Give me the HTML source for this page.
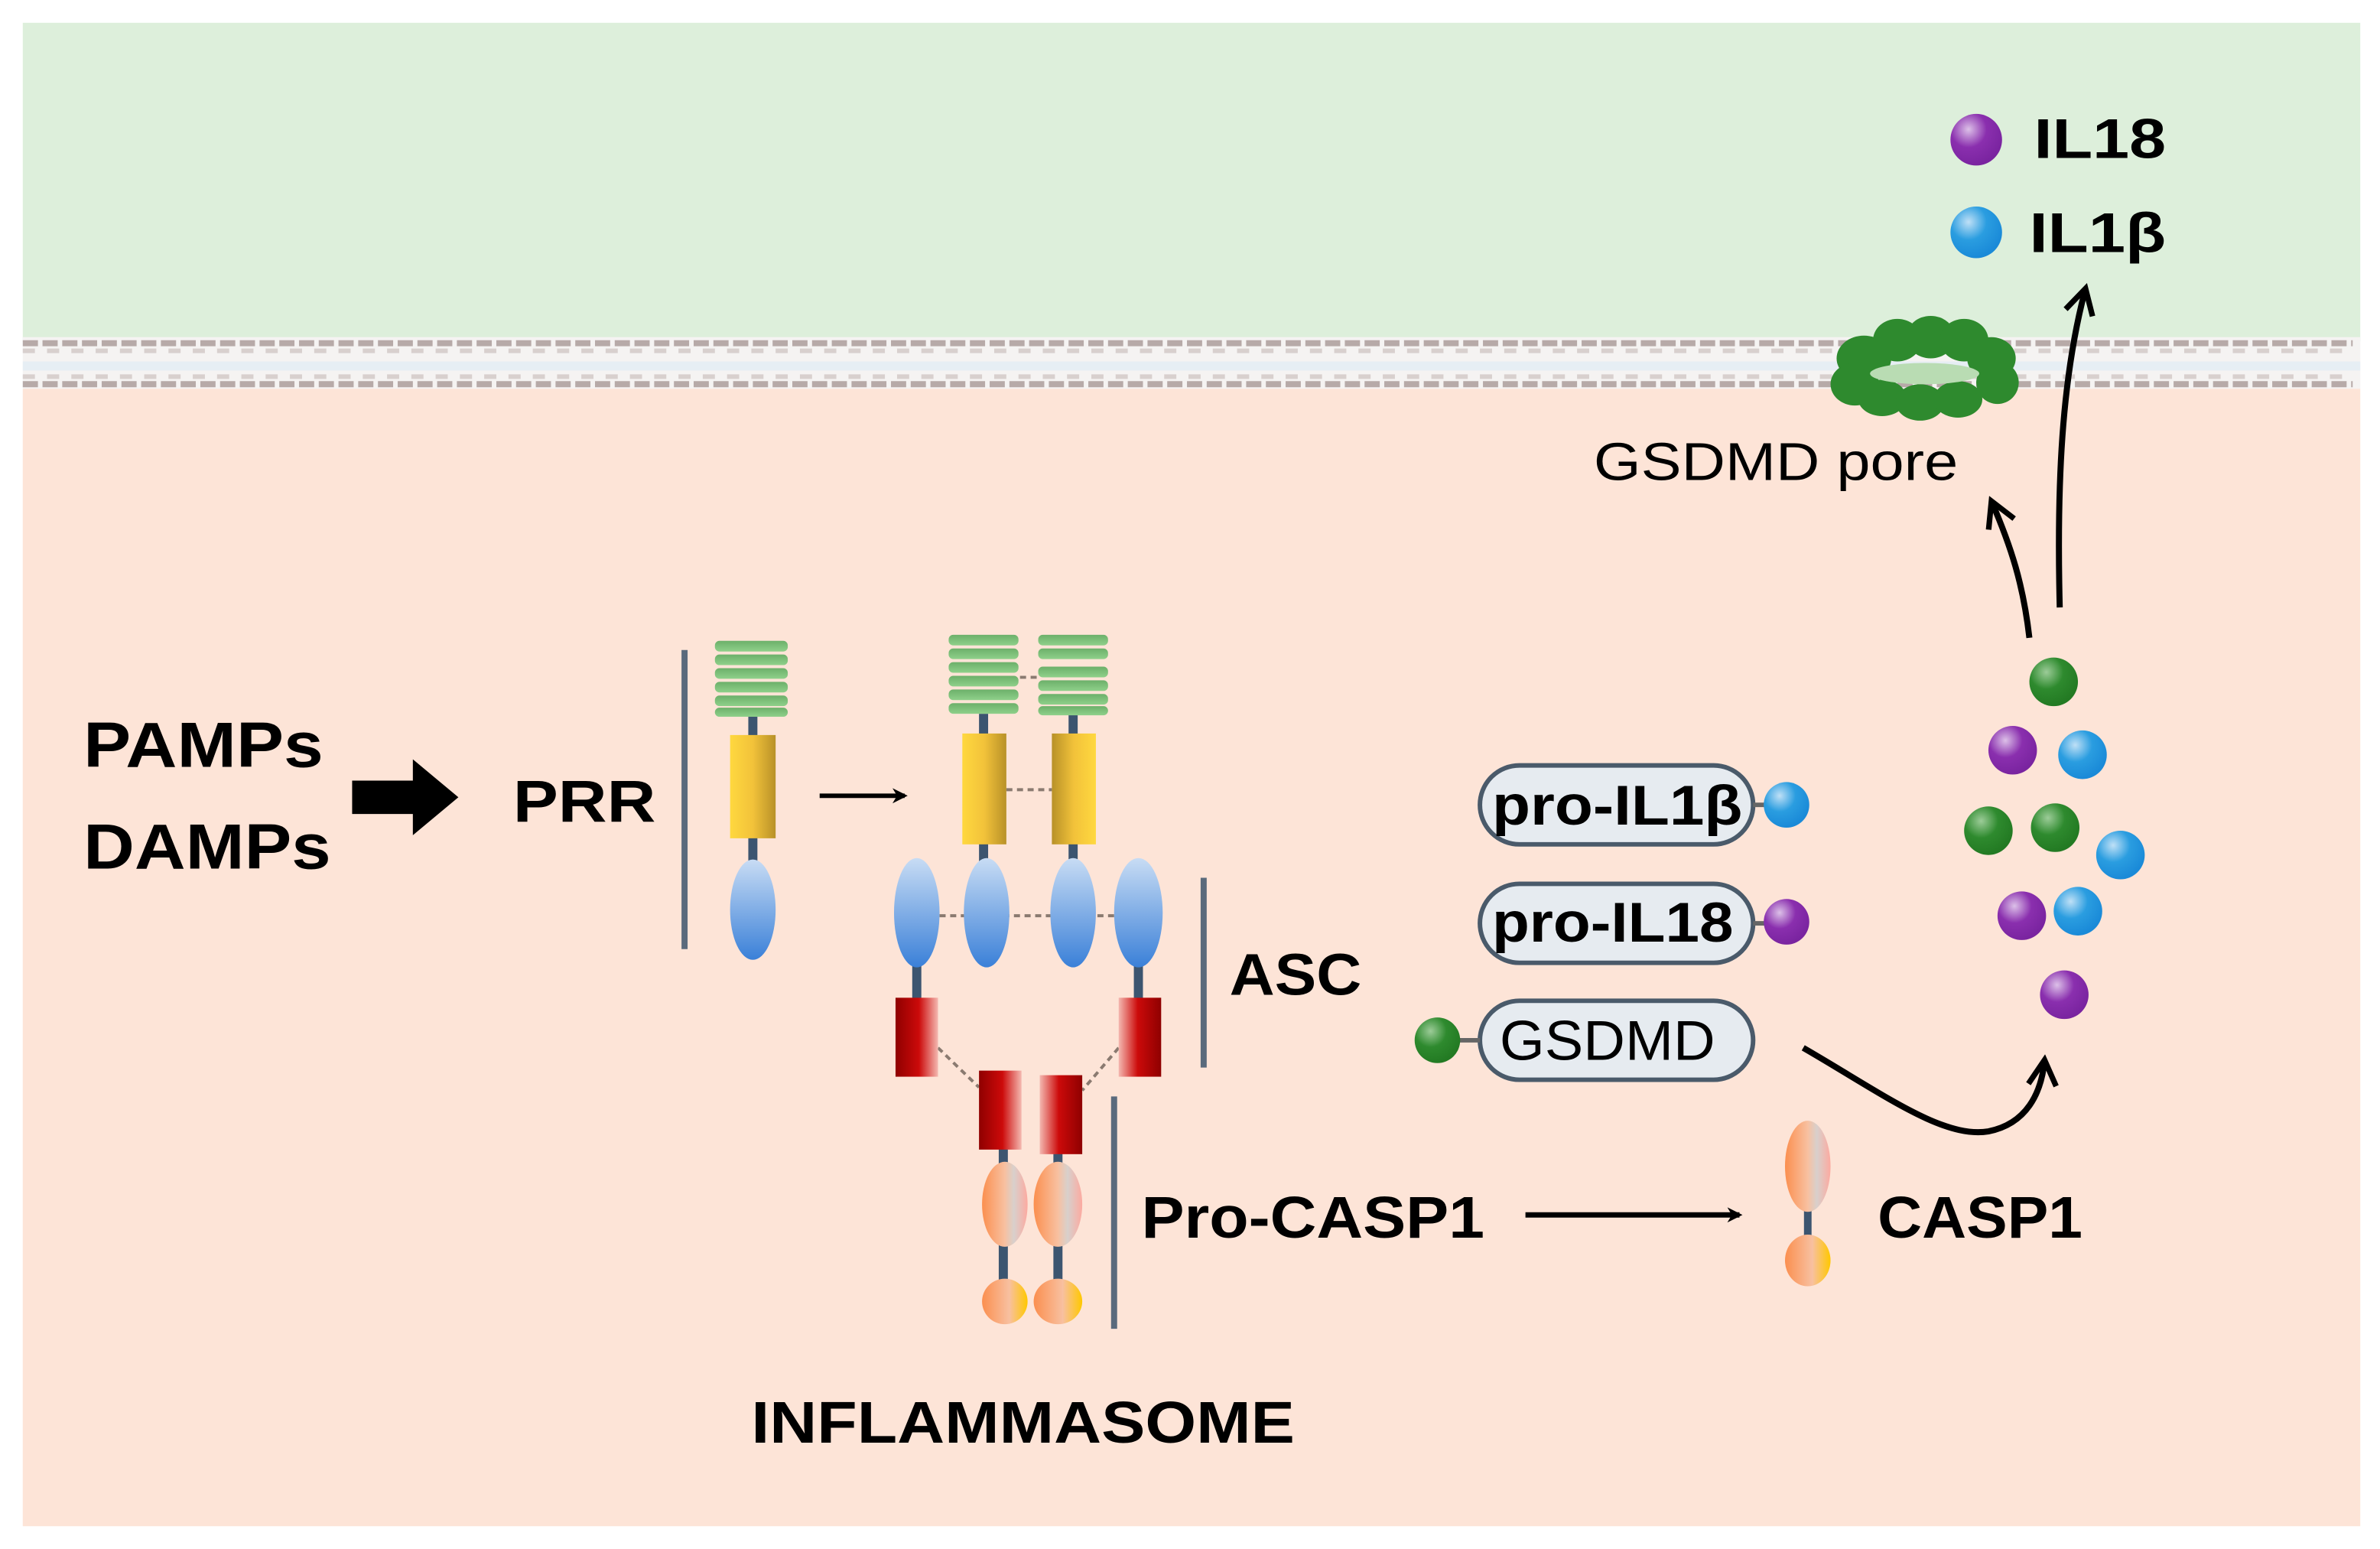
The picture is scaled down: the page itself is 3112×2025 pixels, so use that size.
<!DOCTYPE html>
<html><head><meta charset="utf-8"><style>
html,body{margin:0;padding:0;background:#fff;}
svg{display:block;}
text{font-family:"Liberation Sans",Arial,sans-serif;font-weight:bold;fill:#000;}
</style></head><body>
<svg width="3112" height="2025" viewBox="0 0 1568 1020" preserveAspectRatio="none" xmlns="http://www.w3.org/2000/svg">
<defs>
<linearGradient id="yel" x1="0" x2="1"><stop offset="0" stop-color="#ffd83f"/><stop offset="0.5" stop-color="#f2c23a"/><stop offset="1" stop-color="#b89128"/></linearGradient>
<linearGradient id="yel2" x1="1" x2="0"><stop offset="0" stop-color="#ffd83f"/><stop offset="0.5" stop-color="#f2c23a"/><stop offset="1" stop-color="#b89128"/></linearGradient>
<linearGradient id="blu" x1="0" y1="0" x2="0" y2="1"><stop offset="0" stop-color="#c8dcf4"/><stop offset="1" stop-color="#3a80d8"/></linearGradient>
<linearGradient id="red" x1="0" x2="1"><stop offset="0" stop-color="#8f0000"/><stop offset="0.55" stop-color="#cc0a0a"/><stop offset="1" stop-color="#f4b8b0"/></linearGradient>
<linearGradient id="red2" x1="1" x2="0"><stop offset="0" stop-color="#8f0000"/><stop offset="0.55" stop-color="#cc0a0a"/><stop offset="1" stop-color="#f4b8b0"/></linearGradient>
<linearGradient id="org" x1="0" x2="1"><stop offset="0" stop-color="#fb8f4f"/><stop offset="0.5" stop-color="#f8c0a0"/><stop offset="0.7" stop-color="#d8d0cc"/><stop offset="1" stop-color="#fcaaa0"/></linearGradient>
<linearGradient id="org2" x1="0" x2="1"><stop offset="0" stop-color="#fb8f4f"/><stop offset="0.6" stop-color="#f8c0a0"/><stop offset="1" stop-color="#ffc800"/></linearGradient>
<linearGradient id="grn" x1="0" y1="0" x2="0" y2="1"><stop offset="0" stop-color="#6cb06a"/><stop offset="1" stop-color="#8fd08a"/></linearGradient>
<radialGradient id="gd" cx="0.35" cy="0.3" r="0.7"><stop offset="0" stop-color="#9ccc98"/><stop offset="0.5" stop-color="#2e8a2e"/><stop offset="1" stop-color="#237a23"/></radialGradient>
<radialGradient id="pd" cx="0.35" cy="0.3" r="0.7"><stop offset="0" stop-color="#dcc0e8"/><stop offset="0.5" stop-color="#8a2fae"/><stop offset="1" stop-color="#7a24a0"/></radialGradient>
<radialGradient id="bd" cx="0.35" cy="0.3" r="0.7"><stop offset="0" stop-color="#bfe0f6"/><stop offset="0.5" stop-color="#2a9de0"/><stop offset="1" stop-color="#1a8ad8"/></radialGradient>
<marker id="ah" markerWidth="10" markerHeight="10" refX="8" refY="5" orient="auto" markerUnits="userSpaceOnUse"><path d="M0,0 L10,5 L0,10 L3,5 z" fill="#000"/></marker>
<marker id="ah2" viewBox="0 0 12 12" markerWidth="22" markerHeight="22" refX="10" refY="6" orient="auto" markerUnits="userSpaceOnUse"><path d="M1,1 L10,6 L1,11" fill="none" stroke="#000" stroke-width="2"/></marker>
</defs>
<rect width="1568" height="1020" fill="#fff"/>
<rect x="15" y="15" width="1540" height="210" fill="#ddefdb"/>
<rect x="15" y="222" width="1540" height="34" fill="#f5f3f2"/>
<rect x="15" y="238" width="1540" height="6" fill="#e6eef4"/>
<rect x="15" y="256" width="1540" height="749" fill="#fde4d7"/>
<line x1="15" y1="226" x2="1550" y2="226" stroke="#b7aaa8" stroke-width="4" stroke-dasharray="10 3"/>
<line x1="15" y1="253" x2="1550" y2="253" stroke="#b7aaa8" stroke-width="4" stroke-dasharray="10 3"/>
<line x1="15" y1="231" x2="1550" y2="231" stroke="#d8d0ce" stroke-width="3" stroke-dasharray="8 8"/>
<line x1="15" y1="248" x2="1550" y2="248" stroke="#d8d0ce" stroke-width="3" stroke-dasharray="8 8"/>

<text x="55" y="505" font-size="42" textLength="158" lengthAdjust="spacingAndGlyphs">PAMPs</text>
<text x="55" y="572" font-size="42" textLength="163" lengthAdjust="spacingAndGlyphs">DAMPs</text>
<path d="M232,514 L272,514 L272,500 L302,525 L272,550 L272,536 L232,536 z" fill="#000"/>
<text x="338" y="541" font-size="39" textLength="94" lengthAdjust="spacingAndGlyphs">PRR</text>
<line x1="451" y1="428" x2="451" y2="625" stroke="#5a6a7c" stroke-width="4"/>

<g>
<line x1="496" y1="470" x2="496" y2="600" stroke="#3c5570" stroke-width="6"/>
<g fill="url(#grn)"><rect x="471" y="422" width="48" height="7" rx="3"/><rect x="471" y="431" width="48" height="7" rx="3"/><rect x="471" y="440" width="48" height="7" rx="3"/><rect x="471" y="449" width="48" height="7" rx="3"/><rect x="471" y="458" width="48" height="7" rx="3"/><rect x="471" y="466" width="48" height="6" rx="3"/></g>
<rect x="481" y="484" width="30" height="68" fill="url(#yel)"/>
<ellipse cx="496" cy="599" rx="15" ry="33" fill="url(#blu)"/>
</g>
<line x1="540" y1="524" x2="596" y2="524" stroke="#000" stroke-width="3" marker-end="url(#ah)"/>

<g stroke="#8a7a70" stroke-width="2" stroke-dasharray="4 3" fill="none">
<line x1="672" y1="446" x2="684" y2="446"/>
<line x1="663" y1="520" x2="693" y2="520"/>
<line x1="619" y1="603" x2="693" y2="603"/>
<line x1="723" y1="603" x2="737" y2="603"/>
<line x1="618" y1="690" x2="645" y2="716"/>
<line x1="737" y1="690" x2="713" y2="718"/>
</g>
<g stroke="#3c5570" stroke-width="6">
<line x1="648" y1="470" x2="648" y2="570"/><line x1="707" y1="470" x2="707" y2="570"/>
<line x1="604" y1="630" x2="604" y2="660"/><line x1="750" y1="630" x2="750" y2="660"/>
<line x1="661" y1="750" x2="661" y2="860"/><line x1="697" y1="750" x2="697" y2="860"/>
</g>
<g fill="url(#grn)">
<rect x="625" y="418" width="46" height="7" rx="3"/><rect x="625" y="427" width="46" height="7" rx="3"/><rect x="625" y="436" width="46" height="7" rx="3"/><rect x="625" y="445" width="46" height="7" rx="3"/><rect x="625" y="454" width="46" height="7" rx="3"/><rect x="625" y="463" width="46" height="7" rx="3"/>
<rect x="684" y="418" width="46" height="7" rx="3"/><rect x="684" y="427" width="46" height="7" rx="3"/><rect x="684" y="439" width="46" height="7" rx="3"/><rect x="684" y="448" width="46" height="7" rx="3"/><rect x="684" y="457" width="46" height="7" rx="3"/><rect x="684" y="465" width="46" height="6" rx="3"/>
</g>
<rect x="634" y="483" width="29" height="73" fill="url(#yel)"/>
<rect x="693" y="483" width="29" height="73" fill="url(#yel2)"/>
<ellipse cx="604" cy="601" rx="15" ry="36" fill="url(#blu)"/>
<ellipse cx="650" cy="601" rx="15" ry="36" fill="url(#blu)"/>
<ellipse cx="707" cy="601" rx="15" ry="36" fill="url(#blu)"/>
<ellipse cx="750" cy="601" rx="16" ry="36" fill="url(#blu)"/>
<rect x="590" y="657" width="28" height="52" fill="url(#red)"/>
<rect x="737" y="657" width="28" height="52" fill="url(#red2)"/>
<rect x="645" y="705" width="28" height="52" fill="url(#red)"/>
<rect x="685" y="708" width="28" height="52" fill="url(#red2)"/>
<ellipse cx="662" cy="793" rx="15" ry="28" fill="url(#org)"/>
<ellipse cx="697" cy="793" rx="16" ry="28" fill="url(#org)"/>
<ellipse cx="662" cy="857" rx="15" ry="15" fill="url(#org2)"/>
<ellipse cx="697" cy="857" rx="16" ry="15" fill="url(#org2)"/>
<line x1="793" y1="578" x2="793" y2="703" stroke="#5a6a7c" stroke-width="4"/>
<text x="810" y="655" font-size="39" textLength="87" lengthAdjust="spacingAndGlyphs">ASC</text>
<line x1="734" y1="722" x2="734" y2="875" stroke="#5a6a7c" stroke-width="4"/>
<text x="752" y="815" font-size="39" textLength="226" lengthAdjust="spacingAndGlyphs">Pro-CASP1</text>
<text x="495" y="950" font-size="39" textLength="358" lengthAdjust="spacingAndGlyphs">INFLAMMASOME</text>

<line x1="1005" y1="800" x2="1146" y2="800" stroke="#000" stroke-width="3.5" marker-end="url(#ah)"/>
<line x1="1191" y1="790" x2="1191" y2="830" stroke="#3c5570" stroke-width="5"/>
<ellipse cx="1191" cy="768" rx="15" ry="30" fill="url(#org)"/>
<ellipse cx="1191" cy="830" rx="15" ry="17" fill="url(#org2)"/>
<text x="1237" y="815" font-size="39" textLength="135" lengthAdjust="spacingAndGlyphs">CASP1</text>

<g stroke="#4a5a6a" stroke-width="3" fill="#e6ebf0">
<rect x="975" y="504" width="180" height="52" rx="26"/>
<rect x="975" y="582" width="180" height="52" rx="26"/>
<rect x="975" y="659" width="180" height="52" rx="26"/>
</g>
<g stroke="#666" stroke-width="3"><line x1="1155" y1="530" x2="1164" y2="530"/><line x1="1155" y1="608" x2="1164" y2="608"/><line x1="960" y1="685" x2="975" y2="685"/></g>
<text x="983" y="543" font-size="37" textLength="165" lengthAdjust="spacingAndGlyphs">pro-IL1β</text>
<text x="983" y="620" font-size="37" textLength="159" lengthAdjust="spacingAndGlyphs">pro-IL18</text>
<text x="988" y="698" font-size="37" style="font-weight:normal" textLength="142" lengthAdjust="spacingAndGlyphs">GSDMD</text>
<circle cx="1177" cy="530" r="15" fill="url(#bd)"/>
<circle cx="1177" cy="607" r="15" fill="url(#pd)"/>
<circle cx="947" cy="685" r="15" fill="url(#gd)"/>

<path d="M1188,690 C1240,720 1280,750 1310,745 C1335,740 1345,720 1347,698" fill="none" stroke="#000" stroke-width="4" marker-end="url(#ah2)"/>

<circle cx="1353" cy="449" r="16" fill="url(#gd)"/>
<circle cx="1326" cy="494" r="16" fill="url(#pd)"/>
<circle cx="1372" cy="497" r="16" fill="url(#bd)"/>
<circle cx="1310" cy="547" r="16" fill="url(#gd)"/>
<circle cx="1354" cy="545" r="16" fill="url(#gd)"/>
<circle cx="1397" cy="563" r="16" fill="url(#bd)"/>
<circle cx="1332" cy="603" r="16" fill="url(#pd)"/>
<circle cx="1369" cy="600" r="16" fill="url(#bd)"/>
<circle cx="1360" cy="655" r="16" fill="url(#pd)"/>

<path d="M1337,420 C1333,385 1325,360 1312,330" fill="none" stroke="#000" stroke-width="4" marker-end="url(#ah2)"/>
<path d="M1357,400 C1355,320 1358,250 1374,190" fill="none" stroke="#000" stroke-width="4" marker-end="url(#ah2)"/>

<text x="1050" y="316" font-size="35" style="font-weight:normal" textLength="240" lengthAdjust="spacingAndGlyphs">GSDMD pore</text>

<g fill="#2e8a2e">
<ellipse cx="1228" cy="236" rx="18" ry="15"/><ellipse cx="1250" cy="224" rx="16" ry="14"/><ellipse cx="1272" cy="222" rx="16" ry="14"/><ellipse cx="1294" cy="224" rx="16" ry="14"/><ellipse cx="1312" cy="236" rx="16" ry="14"/>
<ellipse cx="1222" cy="253" rx="16" ry="14"/><ellipse cx="1316" cy="252" rx="14" ry="14"/>
<ellipse cx="1240" cy="262" rx="16" ry="12"/><ellipse cx="1265" cy="265" rx="16" ry="12"/><ellipse cx="1290" cy="263" rx="16" ry="12"/>
</g>
<ellipse cx="1268" cy="246" rx="36" ry="7" fill="#b9dcb3"/>

<circle cx="1302" cy="92" r="17" fill="url(#pd)"/>
<circle cx="1302" cy="153" r="17" fill="url(#bd)"/>
<text x="1340" y="104" font-size="37" textLength="87" lengthAdjust="spacingAndGlyphs">IL18</text>
<text x="1337" y="166" font-size="37" textLength="90" lengthAdjust="spacingAndGlyphs">IL1β</text>
</svg>
</body></html>
